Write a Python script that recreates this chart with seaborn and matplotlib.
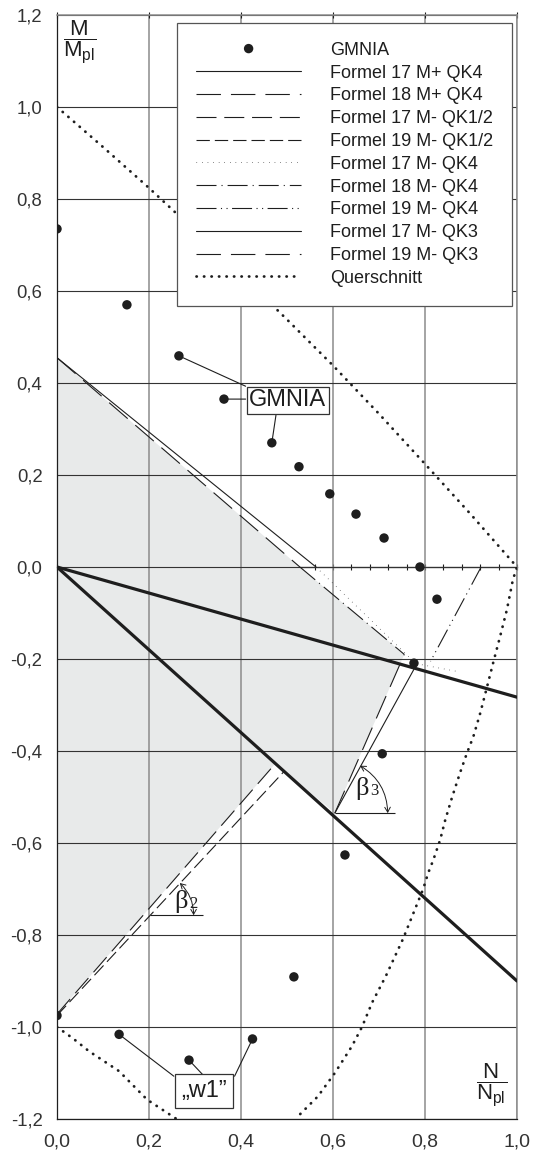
import matplotlib
matplotlib.use("Agg")
import matplotlib.pyplot as plt
import seaborn as sns
from matplotlib.ticker import MultipleLocator, FuncFormatter

# GMNIA results, N/Npl and M/Mpl
gmnia_n = [0.0, 0.152, 0.265, 0.363, 0.467, 0.526, 0.593, 0.650, 0.711, 0.789,
           0.826, 0.776, 0.707, 0.626, 0.515, 0.0, 0.135, 0.287, 0.425]
gmnia_m = [0.735, 0.570, 0.459, 0.365, 0.270, 0.218, 0.159, 0.115, 0.063, 0.0,
           -0.070, -0.209, -0.406, -0.626, -0.891, -0.975, -1.016, -1.072, -1.026]

# design formulas
f17_mp_qk4_n = [0.0, 0.563]
f17_mp_qk4_m = [0.455, 0.0]
f18_mp_qk4_n = [0.0, 0.528]
f18_mp_qk4_m = [0.455, 0.0]
f17_mn_qk12_n = [0.0, 0.475]
f17_mn_qk12_m = [-0.972, -0.427]
f19_mn_qk12_n = [0.0, 0.494]
f19_mn_qk12_m = [-0.975, -0.444]
f17_mn_qk4_n = [0.563, 0.78, 0.875]
f17_mn_qk4_m = [0.0, -0.21, -0.228]
f18_mn_qk4_n = [0.528, 0.755]
f18_mn_qk4_m = [0.0, -0.19]
f19_mn_qk4_n = [0.922, 0.812]
f19_mn_qk4_m = [0.0, -0.205]
f17_mn_qk3_n = [0.604, 0.78]
f17_mn_qk3_m = [-0.535, -0.215]
f19_mn_qk3_n = [0.604, 0.755]
f19_mn_qk3_m = [-0.535, -0.19]

# cross section capacity
qs_n = [0.0, 0.1, 0.2, 0.3, 0.4, 0.5, 0.6, 0.7, 0.8, 0.9, 1.0,
        0.991, 0.978, 0.963, 0.948, 0.935, 0.92, 0.905, 0.891, 0.876, 0.859,
        0.844, 0.833, 0.818, 0.807, 0.796, 0.752, 0.715, 0.685, 0.663, 0.641,
        0.604, 0.567, 0.528, 0.52]
qs_m = [1.0, 0.913, 0.824, 0.731, 0.636, 0.538, 0.438, 0.333, 0.224, 0.114, 0.0,
        -0.028, -0.093, -0.152, -0.209, -0.26, -0.318, -0.369, -0.405, -0.448, -0.5,
        -0.55, -0.593, -0.637, -0.665, -0.70, -0.809, -0.889, -0.947, -1.0, -1.042,
        -1.1, -1.151, -1.19, -1.2]
qs_low_n = [0.0, 0.035, 0.07, 0.135, 0.196, 0.26]
qs_low_m = [-1.0, -1.025, -1.053, -1.096, -1.158, -1.2]

# load paths from the origin
ray_n = [0.0, 1.0]
ray1_m = [0.0, -0.283]
ray2_m = [0.0, -0.9]

# shaded region
area_n = [0.0, 0.528, 0.755, 0.604, 0.475, 0.0]
area_m = [0.455, 0.0, -0.19, -0.535, -0.427, -0.972]

ink = "#1e1e1e"

sns.set_style("white")
plt.rcParams["font.family"] = ["Liberation Sans", "DejaVu Sans"]
plt.rcParams["mathtext.fontset"] = "custom"
plt.rcParams["mathtext.rm"] = "Liberation Sans"
plt.rcParams["mathtext.it"] = "Liberation Sans:italic"

fig = plt.figure(figsize=(5.35, 11.55), dpi=100)
ax = fig.add_axes([57 / 535, 36 / 1155, 460 / 535, 1104 / 1155])

ax.fill(area_n, area_m, color="#e8eaea", lw=0, zorder=1)

series = [
    ("Formel 17 M+ QK4", f17_mp_qk4_n, f17_mp_qk4_m, "-", 0.8),
    ("Formel 18 M+ QK4", f18_mp_qk4_n, f18_mp_qk4_m, (0, (22, 9)), 0.8),
    ("Formel 17 M- QK1/2", f17_mn_qk12_n, f17_mn_qk12_m, (0, (18, 7)), 0.8),
    ("Formel 19 M- QK1/2", f19_mn_qk12_n, f19_mn_qk12_m, (0, (12, 4.5)), 0.8),
    ("Formel 17 M- QK4", f17_mn_qk4_n, f17_mn_qk4_m, (0, (0.7, 6)), 0.6),
    ("Formel 18 M- QK4", f18_mn_qk4_n, f18_mn_qk4_m, (0, (18, 4.5, 1, 4.5)), 0.8),
    ("Formel 19 M- QK4", f19_mn_qk4_n, f19_mn_qk4_m, (0, (18, 4, 1, 4, 1, 4)), 0.8),
    ("Formel 17 M- QK3", f17_mn_qk3_n, f17_mn_qk3_m, "-", 0.8),
    ("Formel 19 M- QK3", f19_mn_qk3_n, f19_mn_qk3_m, (0, (22, 9)), 0.8),
]
for label, n, m, ls, w in series:
    sns.lineplot(x=n, y=m, sort=False, estimator=None, ax=ax, color=ink,
                 lw=w, linestyle=ls, label=label, zorder=3)

sns.lineplot(x=qs_n, y=qs_m, sort=False, estimator=None, ax=ax, color=ink,
             lw=2.0, linestyle=(0, (0.1, 2.6)), dash_capstyle="round",
             label="Querschnitt", zorder=3)
sns.lineplot(x=qs_low_n, y=qs_low_m, sort=False, estimator=None, ax=ax,
             color=ink, lw=2.0, linestyle=(0, (0.1, 2.6)),
             dash_capstyle="round", zorder=3)

for ray_m in (ray1_m, ray2_m):
    sns.lineplot(x=ray_n, y=ray_m, sort=False, estimator=None, ax=ax,
                 color=ink, lw=2.3, zorder=3)

sns.scatterplot(x=gmnia_n, y=gmnia_m, ax=ax, color=ink, s=46,
                edgecolor="none", label="GMNIA", zorder=4)

# axes, ticks and grid
ax.set_xlim(0, 1.0)
ax.set_ylim(-1.2, 1.2)
ax.xaxis.set_major_locator(MultipleLocator(0.2))
ax.yaxis.set_major_locator(MultipleLocator(0.2))
ax.yaxis.set_minor_locator(MultipleLocator(0.04))
fmt = FuncFormatter(lambda v, p: f"{v:.1f}".replace(".", ",").replace("-0,0", "0,0"))
ax.xaxis.set_major_formatter(fmt)
ax.yaxis.set_major_formatter(fmt)
ax.set_axisbelow("line")
ax.xaxis.grid(True, which="major", color="#8c8c8c", lw=1.1)
ax.yaxis.grid(True, which="major", color="#333333", lw=0.8)
ax.tick_params(axis="y", which="both", direction="inout", length=5, width=0.8,
               color=ink, labelsize=13.3, labelcolor="#333333", pad=8)
ax.tick_params(axis="x", which="major", direction="inout", length=5, width=0.8,
               color=ink, labelsize=14, labelcolor="#333333", pad=8,
               top=True)
for side in ("left", "bottom"):
    ax.spines[side].set_color(ink)
    ax.spines[side].set_linewidth(0.9)
for side in ("top", "right"):
    ax.spines[side].set_color("#8c8c8c")
    ax.spines[side].set_linewidth(1.1)
ax.set_xlabel("")
ax.set_ylabel("")

# N axis at M = 0
secax = ax.secondary_xaxis(0.5)
secax.xaxis.set_major_locator(MultipleLocator(0.2))
secax.xaxis.set_minor_locator(MultipleLocator(0.04))
secax.tick_params(which="both", direction="inout", length=5, width=0.8,
                  color=ink, labelbottom=False, labeltop=False)
secax.set_xticklabels([])
for side, sp in secax.spines.items():
    sp.set_color(ink)
    sp.set_linewidth(0.9)

# axis titles as fractions
ax.text(0.05, 1.14, r"$\dfrac{\mathrm{M}}{\mathrm{M}_{\mathrm{pl}}}$",
        ha="center", va="center", fontsize=16, color=ink)
ax.text(0.944, -1.127, r"$\dfrac{\mathrm{N}}{\mathrm{N}_{\mathrm{pl}}}$",
        ha="center", va="center", fontsize=16, color=ink)

# labels with leader lines
box = dict(boxstyle="square,pad=0.12", fc="white", ec="#333333", lw=0.9)
ax.text(0.502, 0.362, "GMNIA", ha="center", va="center", fontsize=17,
        color=ink, bbox=box, zorder=6)
for i, edge in ((2, (0.41, 0.393)), (3, (0.41, 0.365)), (4, (0.476, 0.33))):
    ax.annotate("", xy=(gmnia_n[i], gmnia_m[i]), xytext=edge,
                arrowprops=dict(arrowstyle="-", color=ink, lw=0.8,
                                shrinkA=0, shrinkB=0), zorder=5)
ax.text(0.32, -1.139, "\u201ew1\u201d", ha="center", va="center", fontsize=17,
        color=ink, bbox=dict(boxstyle="square,pad=0.25", fc="white",
                             ec="#333333", lw=0.9), zorder=6)
for i, edge in ((16, (0.254, -1.107)), (17, (0.32, -1.107)), (18, (0.386, -1.107))):
    ax.annotate("", xy=(gmnia_n[i], gmnia_m[i]), xytext=edge,
                arrowprops=dict(arrowstyle="-", color=ink, lw=0.8,
                                shrinkA=0, shrinkB=0), zorder=5)

# angle markers
serif = ["Liberation Serif", "DejaVu Serif"]
ax.hlines(-0.535, 0.604, 0.735, color=ink, lw=0.8, zorder=3)
ax.annotate("", xy=(0.719, -0.535), xytext=(0.659, -0.432),
            arrowprops=dict(arrowstyle="<->,head_length=0.35,head_width=0.2",
                            color=ink, lw=0.7, shrinkA=0, shrinkB=0,
                            connectionstyle="arc3,rad=-0.27"))
ax.text(0.664, -0.482, "\u03b2", family=serif, fontsize=19,
        color=ink, ha="center", va="center")
ax.text(0.69, -0.488, "3", family=serif, fontsize=12,
        color=ink, ha="center", va="center")

ax.hlines(-0.757, 0.202, 0.317, color=ink, lw=0.8, zorder=3)
ax.annotate("", xy=(0.297, -0.757), xytext=(0.267, -0.687),
            arrowprops=dict(arrowstyle="<->,head_length=0.35,head_width=0.2",
                            color=ink, lw=0.7, shrinkA=0, shrinkB=0,
                            connectionstyle="arc3,rad=-0.21"))
ax.text(0.27, -0.727, "\u03b2", family=serif, fontsize=19,
        color=ink, ha="center", va="center")
ax.text(0.296, -0.733, "2", family=serif, fontsize=12,
        color=ink, ha="center", va="center")

# legend
handles, labels = ax.get_legend_handles_labels()
order = ["GMNIA"] + [s[0] for s in series] + ["Querschnitt"]
hmap = dict(zip(labels, handles))
leg = ax.legend([hmap[k] for k in order], order, loc="upper right",
                bbox_to_anchor=(0.989, 0.9928), borderaxespad=0,
                fontsize=13, handlelength=5.8, handletextpad=1.6,
                labelspacing=0.32, borderpad=1.05, frameon=True,
                fancybox=False, framealpha=1, edgecolor="#555555",
                scatterpoints=1, scatteryoffsets=[0.5])
leg.get_frame().set_linewidth(0.9)
for t in leg.get_texts():
    t.set_color(ink)

fig.savefig("out.png", dpi=100)
